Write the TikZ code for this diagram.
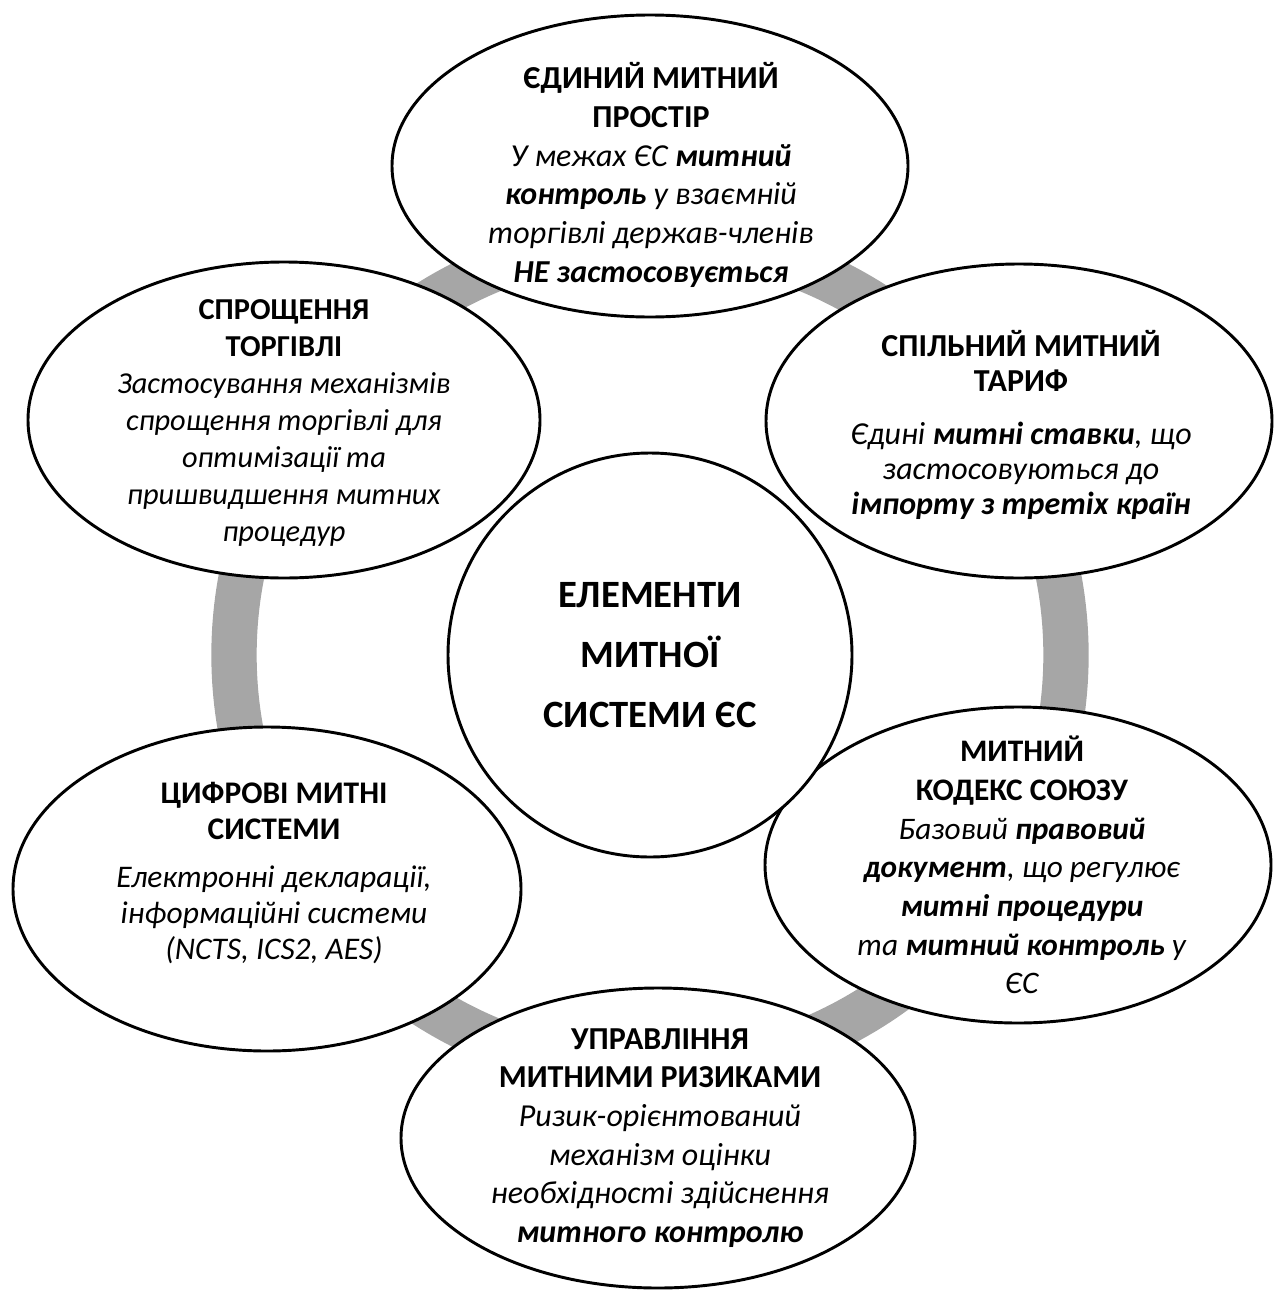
\documentclass[tikz,border=0pt]{standalone}
\usepackage{fontspec}
\setmainfont{Carlito}
\usetikzlibrary{shapes.geometric}
\definecolor{ringgray}{HTML}{A6A6A6}
\tikzset{
  oval/.style={ellipse, draw=black, line width=2.2pt, fill=white, inner sep=0pt},
  txt/.style={align=center, inner sep=0pt, font=\fontsize{24}{29}\selectfont},
  ringline/.style={draw=ringgray, line width=34pt},
}
\begin{document}
\begin{tikzpicture}[x=0.75pt,y=-0.75pt]
\useasboundingbox (0,0) rectangle (1275,1292);
\coordinate (c) at (650,655);
\draw[ringline] (c) circle[radius=416];

\node[oval, minimum width=516*0.75pt, minimum height=302*0.75pt] (top) at (650,166) {};
\node[oval, minimum width=506*0.75pt, minimum height=314*0.75pt] (tr) at (1019,421) {};
\node[oval, minimum width=506*0.75pt, minimum height=316*0.75pt] (br) at (1018,865) {};
\node[oval, minimum width=514*0.75pt, minimum height=300*0.75pt] (bot) at (658,1138) {};
\node[oval, minimum width=508*0.75pt, minimum height=324*0.75pt] (bl) at (267,889) {};
\node[oval, minimum width=512*0.75pt, minimum height=316*0.75pt] (tl) at (284,420) {};

\node[circle, draw=black, line width=2.2pt, fill=white, minimum size=404*0.75pt, inner sep=0pt] (ctr) at (c) {};

\node[txt, font=\fontsize{29}{45}\selectfont\bfseries] (ctrt) at (ctr.center) {ЕЛЕМЕНТИ\\МИТНОЇ\\СИСТЕМИ ЄС};

\node[txt] (topt) at (651,175) {\textbf{ЄДИНИЙ МИТНИЙ}\\\textbf{ПРОСТІР}\\\textit{У межах ЄС \textbf{митний}}\\\textit{\textbf{контроль} у взаємній}\\\textit{торгівлі держав-членів}\\\textit{\textbf{НЕ застосовується}}};

\node[txt, font=\fontsize{24}{26.5}\selectfont] (trt) at (1021,425) {\textbf{СПІЛЬНИЙ МИТНИЙ}\\\textbf{ТАРИФ}\\[13pt]\textit{Єдині \textbf{митні ставки}, що}\\\textit{застосовуються до}\\\textit{\textbf{імпорту з третіх країн}}};

\node[txt, font=\fontsize{23.5}{29}\selectfont] (brt) at (1022,865) {\textbf{МИТНИЙ}\\\textbf{КОДЕКС СОЮЗУ}\\\textit{Базовий \textbf{правовий}}\\\textit{\textbf{документ}, що регулює}\\\textit{\textbf{митні процедури}}\\\textit{та \textbf{митний контроль} у}\\\textit{ЄС}};

\node[txt] (bott) at (660,1138) {\textbf{УПРАВЛІННЯ}\\\textbf{МИТНИМИ РИЗИКАМИ}\\\textit{Ризик-орієнтований}\\\textit{механізм оцінки}\\\textit{необхідності здійснення}\\\textit{\textbf{митного контролю}}};

\node[txt, font=\fontsize{23.6}{27}\selectfont] (blt) at (274,873) {\textbf{ЦИФРОВІ МИТНІ}\\\textbf{СИСТЕМИ}\\[9pt]\textit{Електронні декларації,}\\\textit{інформаційні системи}\\\textit{(NCTS, ICS2, AES)}};

\node[txt, font=\fontsize{22.8}{27.7}\selectfont] (tlt) at (284,423) {\textbf{СПРОЩЕННЯ}\\\textbf{ТОРГІВЛІ}\\\textit{Застосування механізмів}\\\textit{спрощення торгівлі для}\\\textit{оптимізації та}\\\textit{пришвидшення митних}\\\textit{процедур}};
\end{tikzpicture}
\end{document}
